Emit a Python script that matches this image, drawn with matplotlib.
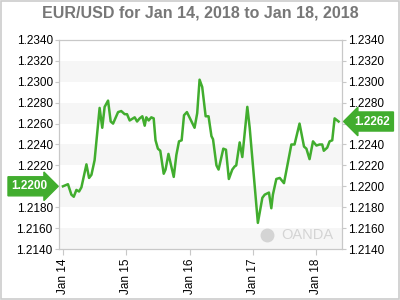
import matplotlib
matplotlib.use('Agg')
import matplotlib.pyplot as plt
from matplotlib.patches import Rectangle
import pandas as pd

# Series: hours since Jan 14 2018 00:00 and EUR/USD price
hours = [0, 1.9, 3.2, 4.1, 5.1, 6.1, 7.0, 8.9, 9.9, 10.8, 12.0, 13.9, 14.9, 15.8,
         17.1, 18.1, 19.0, 20.9, 22.1, 23.4, 24.3, 25.3, 27.2, 28.1, 29.1, 30.1,
         31.0, 31.6, 32.5, 33.5, 34.4, 35.1, 36.0, 36.9, 38.2, 38.9, 40.0, 42.0,
         43.0, 44.0, 45.0, 45.9, 47.0, 49.9, 50.9, 51.8, 52.8, 54.1, 55.2, 56.3,
         56.9, 58.2, 59.0, 60.8, 61.8, 62.9, 64.2, 65.1, 65.7, 67.0, 68.0, 69.9,
         70.8, 73.9, 75.6, 76.5, 78.1, 79.0, 79.6, 80.9, 82.2, 83.8, 86.6, 87.8,
         89.7, 91.4, 92.3, 93.5, 94.8, 96.1, 97.3, 98.3, 98.9, 100.2, 101.1,
         102.1, 103.0, 104.5]
prices = [1.2200, 1.2202, 1.2192, 1.2190, 1.21965, 1.2195, 1.2199, 1.2221, 1.2208,
          1.2211, 1.2225, 1.2275, 1.2256, 1.2276, 1.2282, 1.2262, 1.2260, 1.2271,
          1.2272, 1.2269, 1.2269, 1.2263, 1.2266, 1.2262, 1.2265, 1.2267, 1.2258,
          1.2266, 1.2263, 1.2266, 1.2265, 1.2244, 1.2236, 1.2234, 1.2212, 1.2216,
          1.2231, 1.2209, 1.2230, 1.2243, 1.2244, 1.2268, 1.2271, 1.2256, 1.2270,
          1.2302, 1.2295, 1.2267, 1.2267, 1.2248, 1.2245, 1.2220, 1.2216, 1.2236,
          1.2235, 1.2207, 1.2216, 1.2219, 1.2220, 1.2242, 1.2228, 1.2276, 1.2256,
          1.2165, 1.2189, 1.2192, 1.2194, 1.2179, 1.2192, 1.2207, 1.2208, 1.2203,
          1.2240, 1.2240, 1.2260, 1.2238, 1.2236, 1.2226, 1.2243, 1.2239, 1.2240,
          1.2240, 1.2234, 1.2237, 1.2243, 1.2244, 1.2265, 1.2262]

y_ticks = [1.2140, 1.2160, 1.2180, 1.2200, 1.2220, 1.2240, 1.2260, 1.2280,
           1.2300, 1.2320, 1.2340]
x_tick_days = ['2018-01-14', '2018-01-15', '2018-01-16', '2018-01-17', '2018-01-18']
x_tick_labels = ['Jan 14', 'Jan 15', 'Jan 16', 'Jan 17', 'Jan 18']
title = 'EUR/USD for Jan 14, 2018 to Jan 18, 2018'
start_label = '1.2200'
end_label = '1.2262'

GREEN = '#41ad2e'
GRID_GRAY = '#c8c8c8'

plt.rcParams['font.family'] = ['Liberation Sans', 'DejaVu Sans']

start = pd.Timestamp('2018-01-14')
times = start + pd.to_timedelta(hours, unit='h')

fig = plt.figure(figsize=(4, 3), dpi=100)
ax = fig.add_axes([0.1475, 0.17, 0.7075, 0.6967])

# alternating bands
for i in range(0, len(y_ticks) - 1, 2):
    ax.axhspan(y_ticks[i], y_ticks[i + 1], color='#f6f6f6', lw=0, zorder=0)

ax.plot(times, prices, color=GREEN, lw=1.8, zorder=3)

ax.set_ylim(y_ticks[0], y_ticks[-1])
ax.set_xlim(start - pd.Timedelta(hours=1.5), start + pd.Timedelta(hours=105.8))
ax.set_yticks(y_ticks)
ax.set_yticklabels([f'{v:.4f}' for v in y_ticks])
ax.set_xticks(pd.to_datetime(x_tick_days))
ax.set_xticklabels(x_tick_labels, rotation=90)

ax.tick_params(axis='y', which='both', left=True, right=True, labelleft=True,
               labelright=True, length=3, width=0.8, color=GRID_GRAY,
               labelsize=8.5, pad=1.5, labelcolor='black')
ax.tick_params(axis='x', length=4, width=0.8, color=GRID_GRAY, labelsize=8.5,
               pad=3, labelcolor='black')
for s in ax.spines.values():
    s.set_color(GRID_GRAY)
    s.set_linewidth(0.9)

# the start tag sits where the left 1.2200 label would be
ax.yaxis.get_major_ticks()[y_ticks.index(1.2200)].label1.set_visible(False)

fig.text(0.5, 0.955, title, ha='center', va='center', fontsize=11.5,
         fontweight='bold', color='#777777')

# start / end value tags
trans = matplotlib.transforms.blended_transform_factory(fig.transFigure, ax.transData)
ax.text(0.074, prices[0], start_label, transform=trans, ha='center', va='center',
        fontsize=8.5, fontweight='bold', color='white', zorder=5, clip_on=False,
        bbox=dict(boxstyle='rarrow,pad=0.3', fc=GREEN, ec=GREEN))
ax.text(0.93, prices[-1], end_label, transform=trans, ha='center', va='center',
        fontsize=8.5, fontweight='bold', color='white', zorder=5, clip_on=False,
        bbox=dict(boxstyle='larrow,pad=0.3', fc=GREEN, ec=GREEN))

# watermark
ax.text(0.97, 0.035, 'OANDA', transform=ax.transAxes, ha='right', va='bottom',
        fontsize=10.5, color='#d4d4d4', zorder=1)
ax.plot([0.735], [0.068], transform=ax.transAxes, marker='o', ms=9,
        mfc='#d4d4d4', mec='#d4d4d4', zorder=1)

# figure frame
fig.patches.append(Rectangle((0.002, 0.003), 0.995, 0.994, transform=fig.transFigure,
                             fill=False, ec='#cccccc', lw=1.2))

fig.savefig('out.png', dpi=100)
